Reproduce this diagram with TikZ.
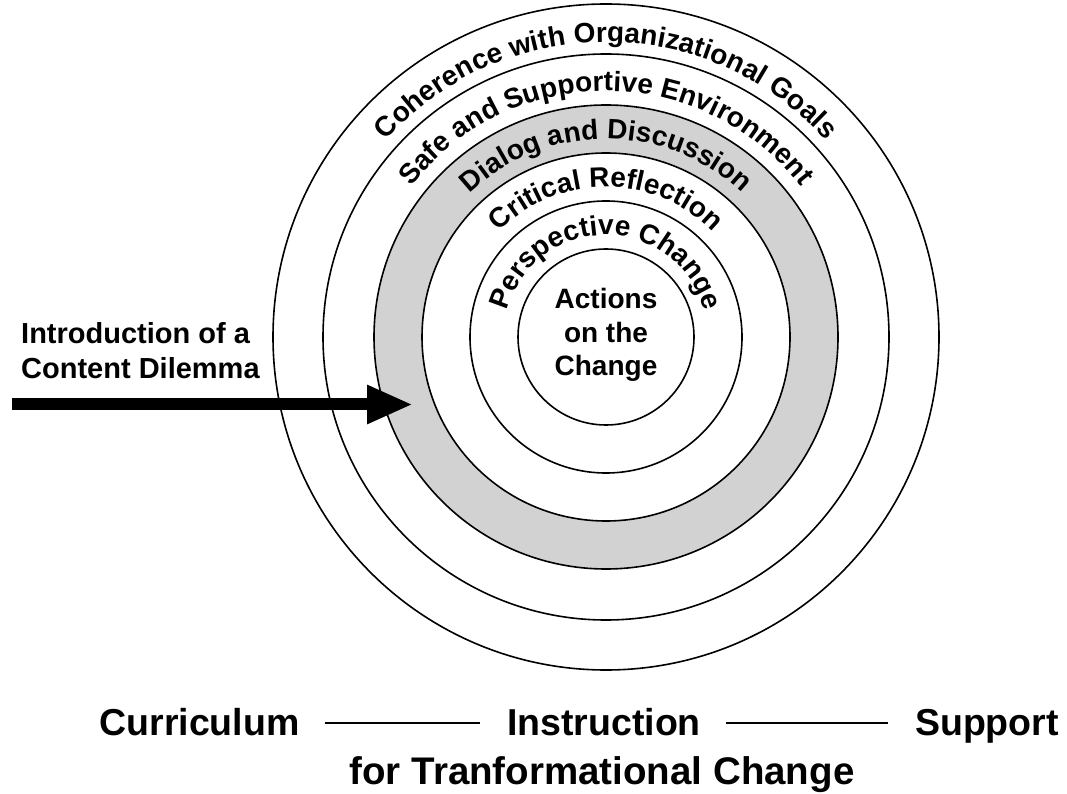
\documentclass[tikz,border=0pt]{standalone}
\usepackage{fontspec}
\setmainfont{Liberation Sans}
\usetikzlibrary{arrows.meta,decorations.text}

\tikzset{
  ring/.style={line width=1.6pt},
  ringtext/.style={decorate, decoration={text along path, text align=center,
      text={|\fontsize{28}{28}\selectfont\bfseries|#1}}},
  bottomtext/.style={anchor=base, inner sep=0pt, text height=27pt, text depth=3pt,
      font=\fontsize{37.5}{37.5}\selectfont\bfseries},
  joinline/.style={line width=2.5pt, shorten <=25pt, shorten >=27pt}
}

\begin{document}
\begin{tikzpicture}[x=1pt,y=1pt]
    \useasboundingbox (0,0) rectangle (1067,793);
    \coordinate (ctr) at (606,456);
    % shaded ring
    \fill[gray!35, even odd rule] (ctr) circle (232) (ctr) circle (184);
    \foreach \r in {88,136,184,232,283,333}
        \draw[ring] (ctr) circle (\r);
    % texts on the rings
    \path[ringtext=Coherence with Organizational Goals] (606-295,456) arc[start angle=180, end angle=0, radius=295];
    \path[ringtext=Safe and Supportive Environment] (606-246,456) arc[start angle=180, end angle=0, radius=246];
    \path[ringtext=Dialog and Discussion] (606-198,456) arc[start angle=180, end angle=0, radius=198];
    \path[ringtext=Critical Reflection] (606-150,456) arc[start angle=180, end angle=0, radius=150];
    \path[ringtext=Perspective Change] (606-102,456) arc[start angle=180, end angle=0, radius=102];
    \node[align=center, inner sep=0pt, font=\fontsize{28}{33.5}\selectfont\bfseries] (actions) at (606,458) {Actions\\on the\\Change};

    \node[anchor=north west, align=left, inner sep=0pt, font=\fontsize{29}{35}\selectfont\bfseries] (dilemma) at (21,471) {Introduction of a\\Content Dilemma};
    \coordinate (arrowstart) at (12,388.5);
    \coordinate (arrowtip) at (413,388.5);
    \draw[line width=12pt, -{Triangle[length=46pt, width=36pt]}] (arrowstart) -- (arrowtip);

    \node[bottomtext] (curriculum) at (199.5,58) {Curriculum};
    \node[bottomtext] (instruction) at (604,58) {Instruction};
    \node[bottomtext] (support) at (987,58) {Support};
    \node[bottomtext, font=\fontsize{38.5}{38.5}\selectfont\bfseries] (forchange) at (602,9) {for Tranformational Change};
    \draw[joinline] (curriculum.east) -- (instruction.west);
    \draw[joinline] (instruction.east) -- (support.west);
\end{tikzpicture}
\end{document}
